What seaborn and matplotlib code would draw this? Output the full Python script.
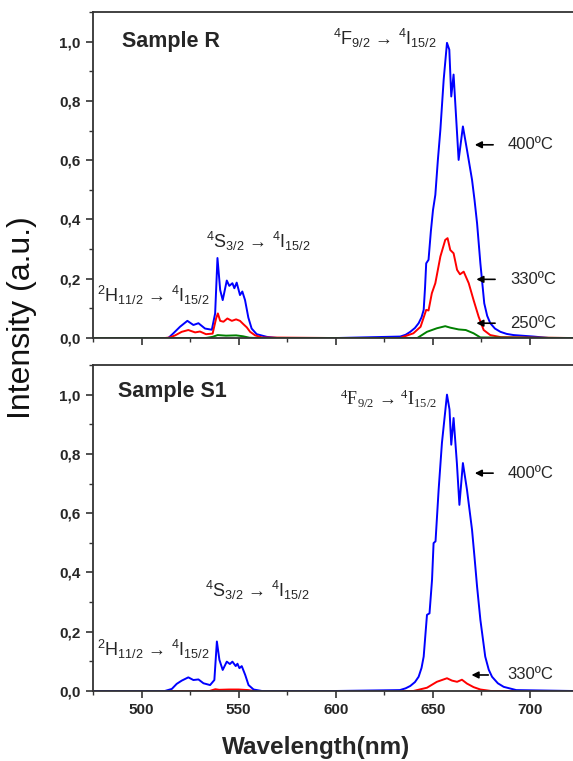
import matplotlib
matplotlib.use("Agg")
import matplotlib.pyplot as plt
import seaborn as sns
import numpy as np
from matplotlib.ticker import MultipleLocator, FuncFormatter

# ---------------- data ----------------
# Sample R
r400_wl = [475, 510, 513.8, 516.4, 519.8, 523.6, 526.7, 529.3, 532.7, 536.2, 537.9, 539.1, 540.5, 541.8,
           543.9, 545.2, 546.8, 547.8, 549.0, 550.7, 551.9, 553.3, 555.0, 556.7, 559.3, 564.5, 570, 600,
           633.2, 636.0, 638.4, 640.8, 642.7, 644.2, 645.3, 646.0, 646.6, 647.8, 649.0, 650.1, 651.3, 652.6,
           653.9, 655.6, 657.3, 658.5, 659.5,
           660.7, 663.3, 665.5, 667.6, 670.2, 671.5, 672.8, 674.5, 676.5, 678.0, 679.6, 682.0, 684.8, 688.0,
           691.6, 701.9, 710, 722]
r400_int = [0, 0, 0.0, 0.016, 0.038, 0.058, 0.044, 0.050, 0.032, 0.028, 0.083, 0.270, 0.162, 0.128,
            0.194, 0.176, 0.185, 0.168, 0.187, 0.145, 0.157, 0.128, 0.069, 0.032, 0.013, 0.004, 0.0, 0.0,
            0.005, 0.011, 0.021, 0.034, 0.050, 0.070, 0.095, 0.170, 0.252, 0.264, 0.360, 0.432, 0.483, 0.600,
            0.703, 0.872, 0.996, 0.973, 0.815,
            0.889, 0.601, 0.714, 0.635, 0.534, 0.465, 0.387, 0.252, 0.117, 0.075, 0.050, 0.032, 0.021, 0.014,
            0.010, 0.005, 0.0, 0.0]

r330_wl = [475, 512, 514.6, 517.3, 520.7, 524.1, 527.6, 530.1, 533.2, 536.6, 538.4, 539.3, 540.5, 542.2,
           544.2, 546.5, 548.7, 550.7, 552.4, 554.2, 555.9, 558.5, 562, 600,
           633, 640, 643.7, 646.6, 647.8, 649.5, 651.3, 653.9, 656.4, 657.6, 659.0, 660.7, 662.5, 664.0,
           665.9, 668.5, 671.0, 673.6, 676.2, 679.6, 685, 722]
r330_int = [0, 0, 0.002, 0.009, 0.021, 0.027, 0.019, 0.022, 0.013, 0.015, 0.066, 0.083, 0.058, 0.055,
            0.066, 0.058, 0.063, 0.058, 0.047, 0.036, 0.021, 0.009, 0.002, 0.0,
            0.0, 0.016, 0.038, 0.095, 0.093, 0.151, 0.185, 0.275, 0.331, 0.337, 0.297, 0.286, 0.230, 0.215,
            0.224, 0.185, 0.128, 0.072, 0.027, 0.010, 0.003, 0.0]

r250_wl = [475, 533, 536.6, 539.2, 543.5, 548.7, 552.2, 555.6, 560, 642, 647, 652.1, 656.4, 659.0, 663.3,
           667.0, 671.0, 674.5, 722]
r250_int = [0, 0, 0.004, 0.010, 0.008, 0.009, 0.006, 0.001, 0, 0, 0.021, 0.033, 0.040, 0.035, 0.029,
            0.027, 0.016, 0.002, 0]

# Sample S1
s400_wl = [475, 512, 515.6, 518.1, 520.7, 524.1, 526.7, 529.3, 531.9, 535.3, 537.5, 538.8, 540.1, 541.8,
           543.9, 545.5, 546.8, 548.5, 549.4, 550.4, 551.6, 553.4, 555.1, 557.7, 562, 600,
           633, 636.0, 638.4, 640.8, 642.7, 644.2, 645.3, 647.0, 648.3, 649.6, 650.4, 651.4, 653.0, 654.7,
           657.3, 658.6, 659.5, 660.7, 662.4, 663.7, 665.5, 667.6, 670.2, 671.5, 672.8, 674.5, 677.0,
           678.8, 680.5, 683.5, 686.5, 693, 722]
s400_int = [0, 0, 0.007, 0.024, 0.035, 0.046, 0.037, 0.039, 0.026, 0.020, 0.037, 0.167, 0.105, 0.071,
            0.099, 0.091, 0.099, 0.084, 0.092, 0.077, 0.084, 0.054, 0.020, 0.005, 0.0, 0.0,
            0.003, 0.009, 0.017, 0.030, 0.048, 0.078, 0.116, 0.257, 0.262, 0.375, 0.499, 0.505, 0.679, 0.837,
            1.000, 0.950, 0.831, 0.921, 0.769, 0.628, 0.769, 0.679, 0.544, 0.450, 0.352, 0.240, 0.116,
            0.072, 0.048, 0.026, 0.014, 0.003, 0.0]

s330_wl = [475, 535, 538, 540, 545, 550, 555, 558, 640, 647, 652.1, 657.3, 659.9, 662.5, 665.0, 667.6,
           671.0, 674.5, 680, 722]
s330_int = [0, 0, 0.006, 0.004, 0.005, 0.005, 0.003, 0, 0, 0.011, 0.031, 0.043, 0.035, 0.031, 0.038,
            0.025, 0.013, 0.005, 0, 0]

ytick_vals = [0.0, 0.2, 0.4, 0.6, 0.8, 1.0]
xtick_vals = [500, 550, 600, 650, 700]

# ---------------- style ----------------
sns.set_style("ticks")
plt.rcParams['font.family'] = ['Liberation Sans', 'DejaVu Sans']
plt.rcParams['mathtext.default'] = 'regular'
plt.rcParams['axes.linewidth'] = 1.3
plt.rcParams['axes.edgecolor'] = '#333333'

fig = plt.figure(figsize=(5.73, 7.61), dpi=100)
ax1 = fig.add_axes([0.1623, 0.5558, 0.8377, 0.4284])
ax2 = fig.add_axes([0.1623, 0.0920, 0.8377, 0.4284])

BLUE, RED, GREEN = '#0000ff', '#ff0000', '#008000'
lw = 1.4

sns.lineplot(x=r400_wl, y=r400_int, color=BLUE, lw=lw, ax=ax1, sort=False, estimator=None)
sns.lineplot(x=r330_wl, y=r330_int, color=RED, lw=lw, ax=ax1, sort=False, estimator=None)
sns.lineplot(x=r250_wl, y=r250_int, color=GREEN, lw=lw, ax=ax1, sort=False, estimator=None)

sns.lineplot(x=s330_wl, y=s330_int, color=RED, lw=lw, ax=ax2, sort=False, estimator=None)
sns.lineplot(x=s400_wl, y=s400_int, color=BLUE, lw=lw, ax=ax2, sort=False, estimator=None)

comma = FuncFormatter(lambda v, p: f"{v:.1f}".replace('.', ','))
for ax in (ax1, ax2):
    ax.set_xlim(475, 722.2)
    ax.set_ylim(0, 1.1)
    ax.set_xticks(xtick_vals)
    ax.set_yticks(ytick_vals)
    ax.xaxis.set_minor_locator(MultipleLocator(25))
    ax.yaxis.set_minor_locator(MultipleLocator(0.1))
    ax.yaxis.set_major_formatter(comma)
    ax.spines['right'].set_visible(False)
    ax.tick_params(which='major', direction='out', length=5, width=1.2, color='#333333',
                   labelsize=11, pad=4)
    ax.tick_params(which='minor', direction='out', length=3, width=1.0, color='#333333')
    for lab in ax.get_yticklabels() + ax.get_xticklabels():
        lab.set_fontweight('bold')
    ax.set_xlabel('')
    ax.set_ylabel('')

ax1.tick_params(axis='x', labelbottom=False)

fig.text(0.551, 0.018, 'Wavelength(nm)', fontsize=17.5, fontweight='bold', ha='center', va='center')
fig.text(0.038, 0.582, 'Intensity (a.u.)', rotation=90, ha='center', va='center',
         fontsize=23, fontweight='medium', color='#111111')

# ---------------- annotations ----------------
tfs = 13
ax1.text(490, 1.0, 'Sample R', fontsize=15.5, fontweight='bold', va='center', ha='left')
ax1.text(598.5, 1.01, r'$^4$F$_{9/2}$ → $^4$I$_{15/2}$', fontsize=tfs, va='center', ha='left')
ax1.text(533, 0.325, r'$^4$S$_{3/2}$ → $^4$I$_{15/2}$', fontsize=tfs, va='center', ha='left')
ax1.text(477, 0.145, r'$^2$H$_{11/2}$ → $^4$I$_{15/2}$', fontsize=tfs, va='center', ha='left')

ax2.text(488, 1.01, 'Sample S1', fontsize=15.5, fontweight='bold', va='center', ha='left')
ax2.text(602, 0.985, r'$^4$F$_{9/2}$ → $^4$I$_{15/2}$', fontsize=tfs, va='center', ha='left',
         family=['Liberation Serif', 'DejaVu Serif'])
ax2.text(532.5, 0.34, r'$^4$S$_{3/2}$ → $^4$I$_{15/2}$', fontsize=tfs, va='center', ha='left')
ax2.text(477, 0.139, r'$^2$H$_{11/2}$ → $^4$I$_{15/2}$', fontsize=tfs, va='center', ha='left')

arrow = dict(arrowstyle='-|>', color='black', lw=1.2, mutation_scale=10)
def temp_label(ax, head_x, tail_x, y, text_x, label):
    ax.annotate('', xy=(head_x, y), xytext=(tail_x, y), arrowprops=arrow)
    ax.text(text_x, y, label, fontsize=12, va='center', ha='left')

temp_label(ax1, 670.2, 682.5, 0.652, 688.5, '400ºC')
temp_label(ax1, 671.0, 683.5, 0.198, 690.0, '330ºC')
temp_label(ax1, 671.0, 683.5, 0.050, 690.0, '250ºC')
temp_label(ax2, 670.2, 682.5, 0.735, 688.5, '400ºC')
temp_label(ax2, 668.5, 680.0, 0.054, 688.5, '330ºC')

fig.savefig('out.png', dpi=100)
